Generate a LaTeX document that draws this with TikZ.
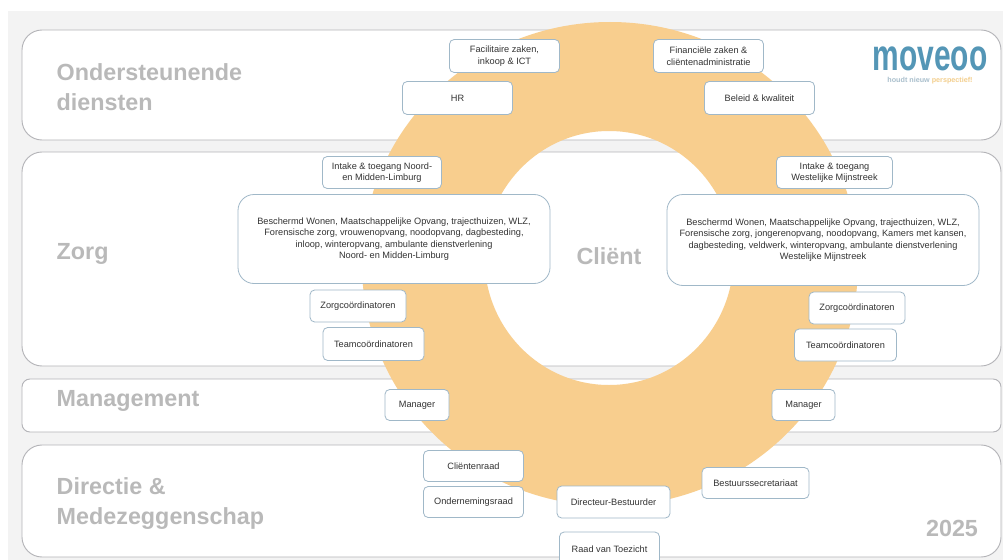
\documentclass[tikz,border=0pt]{standalone}
\usepackage{fontspec}
\setmainfont{Liberation Sans}
\definecolor{bg}{HTML}{F3F3F3}
\definecolor{ringc}{HTML}{F8CE8E}
\definecolor{panelb}{HTML}{B4B4B8}
\definecolor{boxb}{HTML}{A0B8C8}
\definecolor{head}{HTML}{B9B9B9}
\definecolor{txt}{HTML}{333333}
\definecolor{logob}{HTML}{5496B6}
\definecolor{logog}{HTML}{A9BFCC}
\definecolor{logoo}{HTML}{F3CE8C}
\tikzset{
  panel/.style={draw=panelb,line width=0.7pt,fill=white,rounded corners=15pt},
  headline/.style={anchor=west,align=left,text=head,font=\fontsize{17.5}{22.5}\selectfont\bfseries},
  card/.style={draw=boxb,line width=0.6pt,fill=white,rounded corners=3.5pt,align=center,text=txt,font=\fontsize{6.9}{8.6}\selectfont,inner sep=0pt},
}
\newcommand{\cardat}[6]{\node[card,minimum width=#4*0.75pt,minimum height=#5*0.75pt] (#1) at (#2,#3) {#6};}
\begin{document}
\begin{tikzpicture}[x=0.75pt,y=-0.75pt]
\useasboundingbox (0,0) rectangle (1003,560);
\fill[white] (0,0) rectangle (1003,560);
\fill[bg] (8,11) rectangle (1003,560);
% panels
\draw[panel] (22,30) rectangle (1001,140);
\draw[panel] (22,152) rectangle (1001,366);
\draw[panel,rounded corners=6pt] (22,379) rectangle (1001,432);
\draw[panel] (22,445) rectangle (1001,557);
% ring
\fill[ringc,even odd rule] (610,264) ellipse [x radius=248*0.75pt,y radius=242*0.75pt] (609,258) ellipse [x radius=124.5*0.75pt,y radius=127*0.75pt];
% headings
\node[headline] (h1) at (52,87) {Ondersteunende\\diensten};
\node[headline] (h2) at (52,254) {Zorg};
\node[headline] (h3) at (52,401) {Management};
\node[headline] (h4) at (52,504) {Directie \&\\Medezeggenschap};
\node[text=head,font=\fontsize{17.5}{20}\selectfont\bfseries] (cl) at (609,256) {Cliënt};
\node[text=head,font=\fontsize{17.5}{20}\selectfont\bfseries] (yr) at (952,528) {2025};
% logo
\node[text=logob,font=\fontsize{33}{36}\selectfont\bfseries,inner sep=0pt] (logo) at (930,59) {\scalebox{0.68}[1]{moveoo}};
\node[text=logog,font=\fontsize{5.4}{6.4}\selectfont\bfseries] (tag) at (930,81) {houdt nieuw \textcolor{logoo}{perspectief!}};
% cards
\cardat{fac}{504.5}{56}{110}{33}{Facilitaire zaken,\\inkoop \& ICT}
\cardat{fin}{708.5}{56}{110}{33}{Financiële zaken \&\\cliëntenadministratie}
\cardat{hr}{457.5}{98}{110}{33}{HR}
\cardat{bel}{759.5}{98}{110}{33}{Beleid \& kwaliteit}
\cardat{inl}{382}{172.5}{119}{32}{Intake \& toegang Noord-\\en Midden-Limburg}
\cardat{inr}{834.5}{172.5}{116}{32}{Intake \& toegang\\Westelijke Mijnstreek}
\node[card,rounded corners=12pt,minimum width=312*0.75pt,minimum height=89*0.75pt] (bwl) at (394,239) {Beschermd Wonen, Maatschappelijke Opvang, trajecthuizen, WLZ,\\Forensische zorg, vrouwenopvang, noodopvang, dagbesteding,\\inloop, winteropvang, ambulante dienstverlening\\Noord- en Midden-Limburg};
\node[card,rounded corners=12pt,minimum width=312*0.75pt,minimum height=91*0.75pt] (bwr) at (823,240) {Beschermd Wonen, Maatschappelijke Opvang, trajecthuizen, WLZ,\\Forensische zorg, jongerenopvang, noodopvang, Kamers met kansen,\\dagbesteding, veldwerk, winteropvang, ambulante dienstverlening\\Westelijke Mijnstreek};
\cardat{zl}{358}{306}{96}{32}{Zorgcoördinatoren}
\cardat{zr}{857}{308}{96}{32}{Zorgcoördinatoren}
\cardat{tl}{373.5}{344}{101}{33}{Teamcoördinatoren}
\cardat{tr}{845.5}{345}{102}{32}{Teamcoördinatoren}
\cardat{ml}{417}{405}{64}{31}{Manager}
\cardat{mr}{803.5}{405}{63}{31}{Manager}
\cardat{cr}{473.5}{466}{100}{31}{Cliëntenraad}
\cardat{or}{473.5}{502}{100}{31}{Ondernemingsraad}
\cardat{bs}{755.5}{483}{107}{31}{Bestuurssecretariaat}
\cardat{db}{613.5}{502}{113}{32}{Directeur-Bestuurder}
\cardat{rt}{609.5}{549}{100}{34}{Raad van Toezicht}
\end{tikzpicture}
\end{document}
